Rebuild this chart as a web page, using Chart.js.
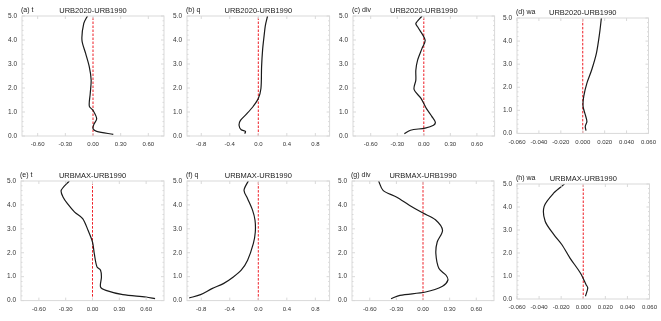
<!DOCTYPE html>
<html>
<head>
<meta charset="utf-8">
<script src="https://cdn.jsdelivr.net/npm/chart.js@4/dist/chart.umd.min.js"></script>
<style>
  body { margin: 0; background: #fff; width: 661px; height: 321px; position: relative; overflow: hidden; }
  canvas { position: absolute; }
</style>
</head>
<body>
<script>
// vertical profiles of differences, height in km

// (a) t  URB2020-URB1990
const tA = [-0.06, -0.10, -0.12, -0.08, -0.04, -0.02, -0.03, -0.04, 0.00, 0.04, 0.01, 0.00, 0.04, 0.22]
const hA = [5.0, 4.69, 4.0, 3.44, 2.88, 2.33, 1.77, 1.24, 1.07, 0.72, 0.49, 0.31, 0.19, 0.07]
// (b) q
const qB = [0.13, 0.10, 0.08, 0.06, 0.046, 0.037, 0.0, -0.07, -0.16, -0.25, -0.27, -0.24, -0.18, -0.19]
const hB = [5.0, 4.62, 4.14, 3.58, 2.88, 1.98, 1.56, 1.24, 0.93, 0.65, 0.45, 0.26, 0.19, 0.10]
// (c) div
const divC = [-0.02, -0.09, -0.07, 0.015, -0.02, -0.07, -0.09, -0.09, -0.11, -0.03, 0.03, 0.09, 0.13, 0.11, 0.015, -0.15, -0.22]
const hC = [5.0, 4.69, 4.55, 4.0, 3.65, 3.16, 2.74, 2.33, 1.94, 1.56, 1.14, 0.82, 0.58, 0.45, 0.33, 0.24, 0.10]
// (d) wa
const waD = [0.017, 0.0154, 0.0125, 0.0082, 0.0038, 0.0009, 0.0003, 0.0023, 0.0038, 0.0023, 0.003]
const hD = [5.0, 4.35, 3.48, 2.76, 2.18, 1.60, 1.17, 0.81, 0.52, 0.30, 0.12]

// (e) t  URBMAX-URB1990
const tE = [-0.26, -0.35, -0.33, -0.28, -0.20, -0.11, -0.05, 0.00, 0.02, 0.05, 0.09, 0.10, 0.09, 0.15, 0.34, 0.60, 0.70]
const hE = [5.0, 4.61, 4.33, 4.05, 3.70, 3.43, 2.94, 2.45, 1.96, 1.41, 1.27, 0.99, 0.57, 0.43, 0.25, 0.15, 0.08]
// (f) q
const qF = [-0.14, -0.20, -0.15, -0.08, -0.046, -0.042, -0.07, -0.15, -0.24, -0.35, -0.49, -0.65, -0.81, -0.97]
const hF = [5.0, 4.61, 4.26, 3.77, 3.36, 2.87, 2.38, 1.69, 1.27, 0.99, 0.71, 0.50, 0.25, 0.11]
// (g) div
const divG = [-0.50, -0.45, -0.30, -0.15, 0.00, 0.14, 0.22, 0.16, 0.145, 0.18, 0.26, 0.28, 0.22, 0.03, -0.26, -0.36]
const hG = [5.0, 4.61, 4.33, 3.98, 3.66, 3.38, 2.94, 2.45, 1.96, 1.34, 1.06, 0.85, 0.60, 0.36, 0.22, 0.08]
// (h) wa
const waH = [-0.017, -0.0266, -0.0354, -0.0345, -0.0266, -0.0193, -0.012, -0.0026, 0.0026, 0.0041, 0.002]
const hH = [5.0, 4.61, 4.03, 3.38, 2.80, 2.36, 1.78, 1.13, 0.62, 0.48, 0.12]

// tick labels
const ticksT = [-0.6, -0.3, 0, 0.3, 0.6]
const ticksQ = [-0.8, -0.4, 0, 0.4, 0.8]
const ticksW = [-0.06, -0.04, -0.02, 0, 0.02, 0.04, 0.06]
const ticksH = [0, 1, 2, 3, 4, 5]

const pair = (xs, ys) => xs.map((v, i) => ({ x: v, y: ys[i] }))

// box: left, top, right, bottom of the plot frame on the page
const panels = [
  { tag: '(a) t',   title: 'URB2020-URB1990', xs: tA,   hs: hA, lim: 0.77, ticks: ticksT, dec: 2, box: [22, 16, 164, 136] },
  { tag: '(b) q',   title: 'URB2020-URB1990', xs: qB,   hs: hB, lim: 1.0,  ticks: ticksQ, dec: 1, box: [186.7, 16, 329.3, 136] },
  { tag: '(c) div', title: 'URB2020-URB1990', xs: divC, hs: hC, lim: 0.8,  ticks: ticksT, dec: 2, box: [352.7, 16, 494.3, 136] },
  { tag: '(d) wa',  title: 'URB2020-URB1990', xs: waD,  hs: hD, lim: 0.06, ticks: ticksW, dec: 3, box: [517, 18.3, 653.3, 133.7] },
  { tag: '(e) t',   title: 'URBMAX-URB1990',  xs: tE,   hs: hE, lim: 0.8,  ticks: ticksT, dec: 2, box: [21.3, 180.7, 164.3, 300.3] },
  { tag: '(f) q',   title: 'URBMAX-URB1990',  xs: qF,   hs: hF, lim: 1.0,  ticks: ticksQ, dec: 1, box: [186.7, 180.7, 329.3, 300.3] },
  { tag: '(g) div', title: 'URBMAX-URB1990',  xs: divG, hs: hG, lim: 0.8,  ticks: ticksT, dec: 2, box: [352, 180.7, 494, 300.3] },
  { tag: '(h) wa',  title: 'URBMAX-URB1990',  xs: waH,  hs: hH, lim: 0.06, ticks: ticksW, dec: 3, box: [517, 184.3, 653.5, 299.3] },
]

const FONT = "'Liberation Sans', Arial, sans-serif"

// frame, inward ticks, panel tag and title
const framePlugin = {
  id: 'frame',
  afterDraw(chart, args, o) {
    const { ctx, chartArea: a, scales } = chart
    ctx.save()
    ctx.strokeStyle = '#d9d9d9'
    ctx.lineWidth = 1
    ctx.strokeRect(a.left, a.top, a.right - a.left, a.bottom - a.top)
    ctx.beginPath()
    scales.x.ticks.forEach(t => {
      const px = scales.x.getPixelForValue(t.value)
      ctx.moveTo(px, a.bottom); ctx.lineTo(px, a.bottom - 3)
      ctx.moveTo(px, a.top); ctx.lineTo(px, a.top + 3)
    })
    for (let v = 0; v <= 5.001; v += 0.2) {
      const py = scales.y.getPixelForValue(v)
      const len = Math.abs(v - Math.round(v)) < 0.01 ? 3 : 1.5
      ctx.moveTo(a.left, py); ctx.lineTo(a.left + len, py)
      ctx.moveTo(a.right, py); ctx.lineTo(a.right - len, py)
    }
    ctx.stroke()
    ctx.fillStyle = '#222'
    ctx.textBaseline = 'alphabetic'
    ctx.font = '7.5px ' + FONT
    ctx.textAlign = 'center'
    ctx.fillText(o.title, (a.left + a.right) / 2, a.top - 3)
    ctx.font = '7px ' + FONT
    ctx.textAlign = 'left'
    ctx.fillText(o.tag, a.left - 1, a.top - 4.5)
    ctx.restore()
  }
}

panels.forEach(p => {
  const [bl, bt, br, bb] = p.box
  const padL = 22, padT = 18, padR = 8, padB = 18
  const cv = document.createElement('canvas')
  const cl = bl - padL, ct = bt - padT
  cv.width = Math.round(br - bl + padL + padR)
  cv.height = Math.round(bb - bt + padT + padB)
  cv.style.left = cl + 'px'
  cv.style.top = ct + 'px'
  document.body.appendChild(cv)

  new Chart(cv.getContext('2d'), {
    type: 'scatter',
    data: {
      datasets: [
        {
          data: pair(p.xs, p.hs),
          showLine: true,
          borderColor: '#1a1a1a',
          borderWidth: 1.2,
          pointRadius: 0,
          tension: 0.3,
        },
        {
          data: [{ x: 0, y: 0 }, { x: 0, y: 5 }],
          showLine: true,
          borderColor: '#ee1c24',
          borderWidth: 1,
          borderDash: [2.5, 1.5],
          pointRadius: 0,
        }
      ]
    },
    options: {
      responsive: false,
      animation: false,
      events: [],
      layout: { padding: { top: padT, right: cv.width - padL - (br - bl), left: 0, bottom: 0 } },
      plugins: {
        legend: { display: false },
        tooltip: { enabled: false },
        frame: { title: p.title, tag: p.tag },
      },
      scales: {
        x: {
          type: 'linear',
          min: -p.lim,
          max: p.lim,
          grid: { display: false, drawTicks: false },
          border: { display: false },
          afterBuildTicks: s => { s.ticks = p.ticks.map(v => ({ value: v })) },
          afterFit: s => { s.height = cv.height - padT - (bb - bt) },
          ticks: {
            autoSkip: false,
            maxRotation: 0,
            padding: 5,
            color: '#333',
            font: { size: 6, family: FONT },
            callback: v => Number(v).toFixed(p.dec),
          }
        },
        y: {
          type: 'linear',
          min: 0,
          max: 5,
          grid: { display: false, drawTicks: false },
          border: { display: false },
          afterBuildTicks: s => { s.ticks = ticksH.map(v => ({ value: v })) },
          afterFit: s => { s.width = padL },
          ticks: {
            padding: 5,
            color: '#333',
            font: { size: 6.5, family: FONT },
            callback: v => Number(v).toFixed(1),
          }
        }
      }
    },
    plugins: [framePlugin]
  })
})
</script>
</body>
</html>
